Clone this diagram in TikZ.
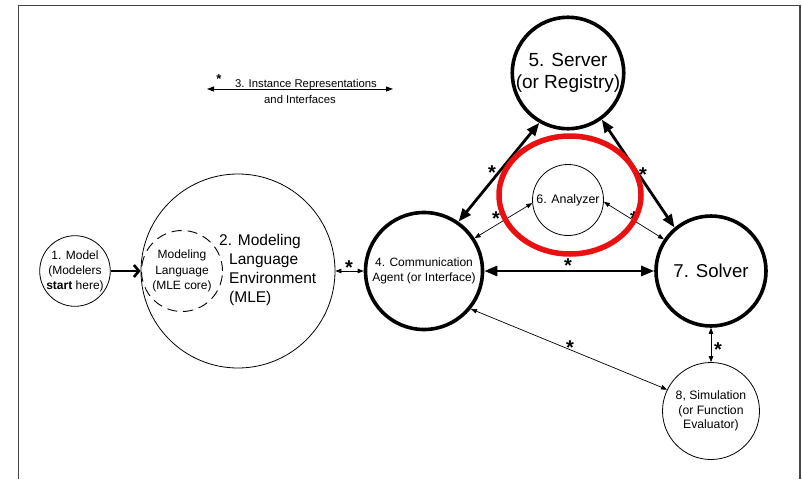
\documentclass[tikz,border=0pt]{standalone}
\usepackage{fontspec}
\setmainfont{Liberation Sans}
\usetikzlibrary{arrows.meta,shapes.geometric}
\definecolor{hlred}{RGB}{232,16,16}
\definecolor{framegray}{RGB}{70,70,70}
\begin{document}
\begin{tikzpicture}[x=1pt,y=-1pt,
  thinnode/.style={circle,draw,line width=0.8pt,inner sep=0pt,align=center,font=\fontsize{12}{15}\selectfont},
  thicknode/.style={circle,draw,line width=3.6pt,inner sep=0pt,align=center},
  thinarr/.style={line width=0.7pt,{Triangle[length=6pt,width=4.5pt]}-{Triangle[length=6pt,width=4.5pt]}},
  thickarr/.style={line width=2.8pt,{Triangle[length=13pt,width=10pt]}-{Triangle[length=13pt,width=10pt]}},
  ast/.style={font=\bfseries\fontsize{20}{20}\selectfont,inner sep=0pt,anchor=base,yshift=-11.6pt},
  smallast/.style={font=\bfseries\fontsize{13}{13}\selectfont,inner sep=0pt,anchor=base,yshift=-7.5pt}
]
\useasboundingbox (0,0) rectangle (802,479);
% frame
\coordinate (fa) at (18.5,479);
\coordinate (fb) at (18.5,5.5);
\coordinate (fc) at (800,5.5);
\coordinate (fd) at (800,479);
\draw[framegray,line width=1.5pt] (fa) -- (fb) -- (fc) -- (fd);

% nodes
\node[thinnode,minimum size=69pt] (n1) at (75,271) {1. Model\\(Modelers\\\textbf{start} here)};
\node[thinnode,minimum size=194pt] (n2) at (238,271) {};
\node[circle,draw,dash pattern=on 10pt off 6pt,line width=0.9pt,minimum size=81pt,inner sep=0pt,align=center,font=\fontsize{12}{15.5}\selectfont] (n2c) at (182,271) {Modeling\\Language\\(MLE core)};
\node[align=left,anchor=west,inner sep=0pt,font=\fontsize{15.5}{18.7}\selectfont] (n2t) at (229,270) {\hspace*{-10pt}2. Modeling\\Language\\Environment\\(MLE)};
\node[thicknode,minimum size=117pt,font=\fontsize{12}{15}\selectfont] (n4) at (424,271) {4. Communication\\Agent (or Interface)};
\node[thicknode,minimum size=109pt,font=\fontsize{19}{22}\selectfont] (n5) at (568,73) {5. Server\\(or Registry)};
\node[thinnode,minimum size=71pt,font=\fontsize{12.4}{15}\selectfont] (n6) at (568,200) {6. Analyzer};
\node[thicknode,minimum size=110pt,font=\fontsize{18.6}{22}\selectfont] (n7) at (711,271) {7. Solver};
\node[thinnode,minimum size=97pt,font=\fontsize{12.2}{14.5}\selectfont] (n8) at (711,411) {8, Simulation\\(or Function\\Evaluator)};

% legend
\coordinate (l1) at (207,89);
\coordinate (l2) at (393,89);
\draw[line width=0.8pt,{Triangle[length=7pt,width=5pt]}-{Triangle[length=7pt,width=5pt]}] (l1) -- (l2);
\node[anchor=base,inner sep=0pt,font=\fontsize{11.3}{13}\selectfont] (l3) at (306,87.5) {3. Instance Representations};
\node[inner sep=0pt,font=\fontsize{11.3}{13}\selectfont] (l4) at (300,99) {and Interfaces};
\node[smallast] (la) at (219,76) {*};

% connectors
\draw[line width=2.6pt,-{Straight Barb[length=5pt,width=12pt]}] (n1.east) -- (n2.west);
\draw[thinarr] (n2.east) -- (n4.west);
\node[ast] (s24) at (349,263) {*};
\draw[thickarr] (n4.east) -- (n7.west);
\node[ast] (s47) at (568,261) {*};
\draw[thickarr] (n4.55) -- (n5.240);
\node[ast] (s45) at (492,168) {*};
\draw[thickarr] (n5.306) -- (n7.130);
\node[ast] (s57) at (643,170) {*};
\draw[thinarr] (n4.33) -- (n6.185);
\node[ast] (s46) at (496,214) {*};
\draw[thinarr] (n6.357) -- (n7.146);
\node[ast] (s67) at (634,214) {*};
\draw[thinarr] (n4.321) -- (n8.154);
\node[ast] (s48) at (570,343) {*};
\draw[thinarr] (n7.south) -- (n8.north);
\node[ast] (s78) at (718,345) {*};

% highlight
\node[ellipse,draw=hlred,line width=5.5pt,minimum width=142pt,minimum height=118pt] (hl) at (570,195) {};
\end{tikzpicture}
\end{document}
